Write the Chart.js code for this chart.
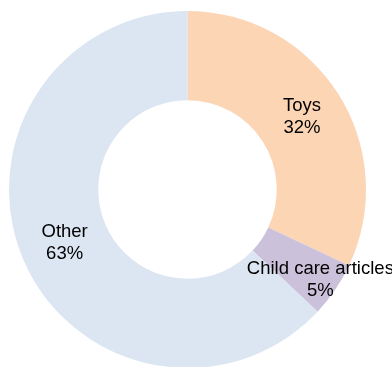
<!DOCTYPE html>
<html>
<head>
<meta charset="utf-8">
<script src="https://cdn.jsdelivr.net/npm/chart.js@4/dist/chart.umd.min.js"></script>
<style>
  html, body { margin: 0; padding: 0; background: #fff; overflow: hidden; }
  #wrap { position: relative; width: 392px; height: 379px; }
</style>
</head>
<body>
<div id="wrap"><canvas id="pie"></canvas></div>
<script>
var categories = ['Toys', 'Child care articles', 'Other'];
var shares = [32, 5, 63];
var sliceColors = ['#FCD5B5', '#CCC1DA', '#DCE6F2'];

// label text drawn inside/near each slice
var sliceLabels = {
  id: 'sliceLabels',
  afterDatasetsDraw: function(chart, args, opts) {
    var ctx = chart.ctx;
    var meta = chart.getDatasetMeta(0);
    ctx.save();
    ctx.fillStyle = '#000';
    ctx.font = '18.5px "Liberation Sans", Arial, sans-serif';
    ctx.textAlign = 'center';
    ctx.textBaseline = 'middle';
    meta.data.forEach(function(arc, i) {
      var mid = (arc.startAngle + arc.endAngle) / 2;
      var r = arc.outerRadius * opts.radius[i];
      var x = arc.x + Math.cos(mid) * r;
      var y = arc.y + Math.sin(mid) * r;
      ctx.fillText(categories[i], x, y - 11);
      ctx.fillText(shares[i] + '%', x, y + 11);
    });
    ctx.restore();
  }
};

new Chart(document.getElementById('pie'), {
  type: 'doughnut',
  data: {
    labels: categories,
    datasets: [{
      data: shares,
      backgroundColor: sliceColors,
      borderWidth: 0
    }]
  },
  options: {
    responsive: true,
    maintainAspectRatio: false,
    animation: false,
    cutout: '50%',
    layout: { padding: { top: 11, bottom: 11, left: 9, right: 26 } },
    plugins: {
      legend: { display: false },
      tooltip: { enabled: false },
      sliceLabels: { radius: [0.76, 0.9, 0.75] }
    }
  },
  plugins: [sliceLabels]
});
</script>
</body>
</html>
